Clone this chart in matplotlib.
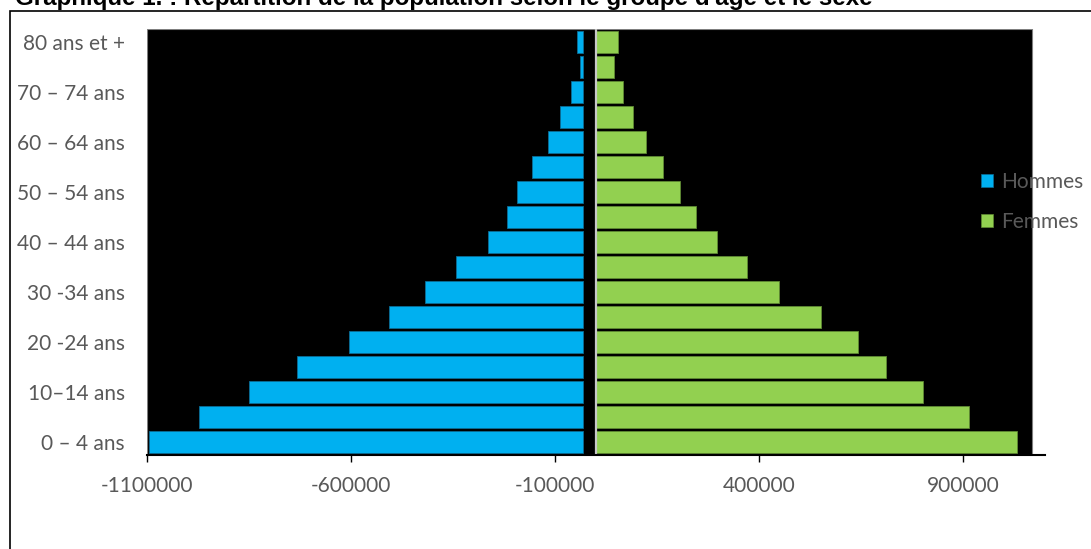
import matplotlib.pyplot as plt
from matplotlib.patches import Rectangle, Patch

# age groups, bottom to top
groups = ['0 – 4 ans', '5 – 9 ans', '10–14 ans', '15 – 19 ans', '20 -24 ans', '25 – 29 ans',
          '30 -34 ans', '35 – 39 ans', '40 – 44 ans', '45 – 49 ans', '50 – 54 ans',
          '55 – 59 ans', '60 – 64 ans', '65 – 69 ans', '70 – 74 ans', '75 – 79 ans',
          '80 ans et +']

# population
hommes = [1095400, 971800, 849200, 731400, 606300, 508200, 418200, 343100, 265400,
          218800, 192500, 157500, 117500, 88100, 61800, 39700, 45400]
femmes = [1032100, 914400, 800800, 711600, 641400, 552100, 447600, 369900, 297000,
          245500, 205500, 163800, 121400, 91000, 65700, 43700, 53500]

xticks = [-1100000, -600000, -100000, 400000, 900000]

grey = '#595959'
blue = '#00B0F0'
green = '#92D050'
gap = 33000  # black gap between the male bars and the zero line

fig = plt.figure(figsize=(10.91, 5.49), dpi=100)
ax = fig.add_axes([147 / 1091, 1 - 455 / 549, (1045 - 147) / 1091, (455 - 29) / 549])

y = list(range(len(groups)))
ax.axvspan(-1100000, 1069000, facecolor='black', edgecolor='#7f7f7f', lw=0.8, zorder=0)
ax.barh(y, [-(h - gap) for h in hommes], left=-gap, height=0.9, color=blue,
        edgecolor='#0b6d96', linewidth=0.6, zorder=2)
ax.barh(y, femmes, height=0.9, color=green, edgecolor='#5f8a33', linewidth=0.6, zorder=2)
ax.axvline(0, color='#c8c8c8', lw=1.6, zorder=3)

ax.set_xlim(-1100000, 1100000)
ax.set_ylim(-0.52, len(groups) - 0.48)
ax.set_xticks(xticks)
ax.set_xticklabels([str(v) for v in xticks], fontsize=15, color=grey, family='Lato')
ax.set_yticks(y[::2])
ax.set_yticklabels(groups[::2], fontsize=15, color=grey, family='Lato')
ax.tick_params(axis='y', length=0, pad=16)
ax.tick_params(axis='x', length=5, width=1, color='black', pad=10)
for s in ['left', 'right', 'top']:
    ax.spines[s].set_visible(False)
ax.spines['bottom'].set_linewidth(1.5)
ax.spines['bottom'].set_zorder(4)

handles = [Patch(facecolor=blue, edgecolor='#0b6d96', lw=0.5, label='Hommes'),
           Patch(facecolor=green, edgecolor='#5f8a33', lw=0.5, label='Femmes')]
fig.legend(handles=handles, loc='center left', bbox_to_anchor=(981 / 1091, 1 - 202 / 549),
           frameon=False, borderpad=0, borderaxespad=0, handlelength=0.58,
           handleheight=0.58, handletextpad=0.38, labelspacing=0.95,
           prop={'family': 'Lato', 'size': 15}, labelcolor=grey)

fig.text(15 / 1091, 1 - 5 / 549,
         "Graphique 1. : Répartition de la population selon le groupe d'âge et le sexe",
         fontsize=17.4, fontweight='bold', family='Liberation Sans', va='baseline')

fig.patches.append(Rectangle((10 / 1091, -0.1), 1.2, 1.1 - 11 / 549, transform=fig.transFigure,
                             fill=False, edgecolor='black', lw=1.2))

plt.savefig('out.png', dpi=100)
plt.close()
